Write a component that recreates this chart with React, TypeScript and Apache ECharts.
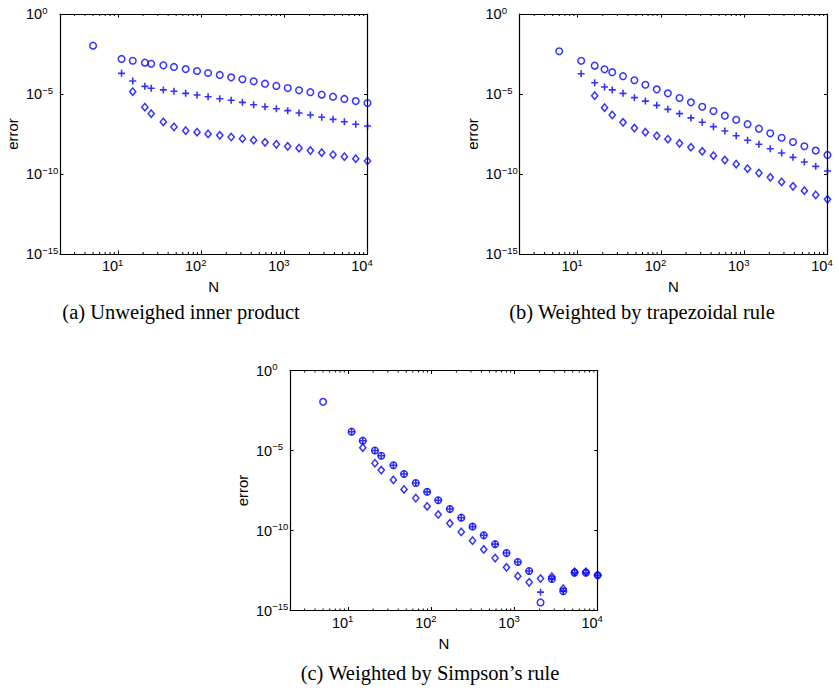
import React, { useEffect, useRef } from 'react';
import * as echarts from 'echarts';

// ---- data ----
const nA = [5, 11, 15, 21, 25, 35, 47, 65, 89, 121, 167, 229, 313, 427, 585, 801, 1097, 1501, 2055, 2813, 3851, 5273, 7219, 10000];
const nB = [6, 11, 16, 21, 26, 35, 48, 65, 89, 121, 167, 229, 313, 427, 585, 801, 1097, 1501, 2055, 2813, 3851, 5273, 7219, 10000];
const nC = [5, 11, 15, 21, 25, 35, 47, 65, 89, 121, 167, 229, 313, 427, 585, 801, 1097, 1501, 2055, 2813, 3851, 5273, 7219, 10000];

// (a) unweighed inner product
const circA = [1.05e-2, 1.55e-3, 1.2e-3, 9.1e-4, 7.8e-4, 6.2e-4, 4.9e-4, 3.6e-4, 2.75e-4, 2.05e-4, 1.55e-4, 1.1e-4, 8.3e-5, 6.2e-5, 4.4e-5, 3.2e-5, 2.35e-5, 1.7e-5, 1.3e-5, 9.1e-6, 6.8e-6, 4.9e-6, 3.6e-6, 2.75e-6];
const crossA = [1.95e-4, 6.5e-5, 3.0e-5, 2.3e-5, 1.8e-5, 1.5e-5, 1.1e-5, 8.7e-6, 6.8e-6, 5.1e-6, 4.1e-6, 3.0e-6, 2.15e-6, 1.6e-6, 1.2e-6, 9.1e-7, 6.5e-7, 4.9e-7, 3.5e-7, 2.6e-7, 1.85e-7, 1.3e-7, 1.0e-7];
const diamA = [1.4e-5, 1.5e-6, 5.9e-7, 1.8e-7, 8.7e-8, 5.1e-8, 4.1e-8, 3.2e-8, 2.6e-8, 2.05e-8, 1.6e-8, 1.3e-8, 9.5e-9, 7.2e-9, 5.4e-9, 4.1e-9, 2.9e-9, 2.15e-9, 1.6e-9, 1.2e-9, 9.1e-10, 6.5e-10];

// (b) weighted by trapezoidal rule
const circB = [4.7e-3, 1.2e-3, 5.9e-4, 3.5e-4, 2.3e-4, 1.3e-4, 7.2e-5, 3.8e-5, 1.95e-5, 1.1e-5, 5.6e-6, 3.0e-6, 1.6e-6, 8.7e-7, 4.4e-7, 2.45e-7, 1.3e-7, 6.8e-8, 3.5e-8, 1.85e-8, 1.0e-8, 5.4e-9, 2.9e-9, 1.55e-9];
const crossB = [1.85e-4, 5.1e-5, 2.75e-5, 1.8e-5, 1.1e-5, 5.9e-6, 3.6e-6, 1.95e-6, 1.1e-6, 5.9e-7, 3.2e-7, 1.7e-7, 9.1e-8, 4.9e-8, 2.45e-8, 1.3e-8, 7.2e-9, 3.8e-9, 2.05e-9, 1.1e-9, 5.6e-10, 3.0e-10, 1.55e-10];
const diamB = [7.8e-6, 1.4e-6, 4.9e-7, 1.7e-7, 7.4e-8, 4.1e-8, 2.45e-8, 1.5e-8, 8.3e-9, 4.7e-9, 2.6e-9, 1.4e-9, 7.4e-10, 4.1e-10, 2.15e-10, 1.15e-10, 6.2e-11, 3.2e-11, 1.7e-11, 9.1e-12, 4.9e-12, 2.6e-12];

// (c) weighted by Simpson's rule
const circC = [1.1e-2, 1.5e-4, 4.1e-5, 1.0e-5, 4.7e-6, 1.2e-6, 3.4e-7, 9.3e-8, 2.6e-8, 7.8e-9, 2.2e-9, 6.3e-10, 1.75e-10, 5.0e-11, 1.4e-11, 3.9e-12, 1.07e-12, 2.95e-13, 3.2e-15, 9.3e-14, 1.6e-14, 2.3e-13, 2.3e-13, 1.6e-13];
const crossC = [1.5e-4, 4.1e-5, 1.0e-5, 4.7e-6, 1.2e-6, 3.4e-7, 9.3e-8, 2.6e-8, 7.8e-9, 2.2e-9, 6.3e-10, 1.75e-10, 5.0e-11, 1.4e-11, 3.9e-12, 1.07e-12, 2.95e-13, 1.4e-14, 9.3e-14, 1.6e-14, 2.3e-13, 2.3e-13, 1.6e-13];
const diamC = [1.5e-5, 1.6e-6, 6.0e-7, 1.45e-7, 3.7e-8, 1.07e-8, 3.2e-9, 1.0e-9, 2.8e-10, 8.1e-11, 2.3e-11, 6.6e-12, 1.9e-12, 5.0e-13, 1.4e-13, 5.8e-14, 1.0e-13, 1.3e-13, 2.3e-14, 2.6e-13, 2.6e-13, 1.6e-13];

const captions = ['(a) Unweighed inner product', '(b) Weighted by trapezoidal rule', '(c) Weighted by Simpson\u2019s rule'];
const xMinorTicks = [3, 4, 5, 6, 7, 8, 9, 20, 30, 40, 50, 60, 70, 80, 90, 200, 300, 400, 500, 600, 700, 800, 900, 2000, 3000, 4000, 5000, 6000, 7000, 8000, 9000];

// ---- layout / style ----
const BLUE = '#0000ff';
const SANS = '"Liberation Sans", Arial, Helvetica, sans-serif';
const SERIF = '"Liberation Serif", "Times New Roman", serif';
const CROSS = 'path://M0,5L10,5M5,0L5,10';

const grids = [
  { left: 60, top: 14, width: 307.5, height: 240 },
  { left: 519.5, top: 14, width: 308, height: 240 },
  { left: 290, top: 370.5, width: 307.7, height: 240 },
];
const captionPos = [
  [181, 312],
  [642, 312],
  [430, 673],
];

function expLabel(v: number): string {
  const e = Math.log10(v);
  const r = Math.round(e);
  if (Math.abs(e - r) > 1e-6) return '';
  const s = r < 0 ? '\u2212' + String(-r) : String(r);
  return '{b|10}{s|' + s + '}';
}

const richX = {
  b: { fontSize: 14.5, fontFamily: SANS, color: '#000' },
  s: { fontSize: 9.5, fontFamily: SANS, color: '#000', padding: [0, 11, 8, 0] },
};
const richY = {
  b: { fontSize: 14.5, fontFamily: SANS, color: '#000' },
  s: { fontSize: 9.5, fontFamily: SANS, color: '#000', padding: [0, 0, 8, 0] },
};

export default function App() {
  const ref = useRef<HTMLDivElement>(null);
  useEffect(() => {
    if (!ref.current) return;
    const chart = echarts.init(ref.current, undefined, { renderer: 'svg' });

    const xAxes: any[] = [];
    const yAxes: any[] = [];
    const series: any[] = [];
    const sets = [
      [nA, circA, crossA, diamA],
      [nB, circB, crossB, diamB],
      [nC, circC, crossC, diamC],
    ] as number[][][];

    grids.forEach((g, i) => {
      const common = {
        gridIndex: i,
        axisLine: { show: true, onZero: false, lineStyle: { color: '#000', width: 1.2 } },
        axisTick: { show: true, inside: true, length: 3.5, lineStyle: { color: '#000', width: 1 } },
        splitLine: { show: false },
      };
      xAxes.push({
        ...common,
        type: 'log', logBase: 10, min: 2, max: 10000, position: 'bottom',
        axisLabel: {
          show: true, formatter: expLabel, rich: richX, margin: 3, align: 'center',
          fontSize: 14.5, fontFamily: SANS, color: '#000',
        },
        name: 'N', nameLocation: 'middle', nameGap: 25,
        nameTextStyle: { fontSize: 15, fontFamily: SANS, color: '#000' },
      });
      xAxes.push({
        ...common,
        type: 'log', logBase: 10, min: 2, max: 10000, position: 'top',
        axisLabel: { show: false },
      });
      yAxes.push({
        ...common,
        type: 'log', logBase: 100000, min: 1e-15, max: 1, position: 'left',
        axisLabel: {
          show: true, formatter: expLabel, rich: richY, margin: 34, align: 'left',
          fontSize: 14.5, fontFamily: SANS, color: '#000',
        },
        name: 'error', nameLocation: 'middle', nameGap: 40, nameRotate: 90,
        nameTextStyle: { fontSize: 15, fontFamily: SANS, color: '#000' },
      });
      yAxes.push({
        ...common,
        type: 'log', logBase: 100000, min: 1e-15, max: 1, position: 'right',
        axisLabel: { show: false },
      });

      const [ns, circ, cross, diam] = sets[i];
      series.push({
        type: 'custom', xAxisIndex: 2 * i, yAxisIndex: 2 * i, silent: true, clip: false,
        data: xMinorTicks.map((v) => [v, 1]),
        renderItem: (params: any, api: any) => {
          const cs = params.coordSys;
          const x = api.coord([api.value(0), 1])[0];
          const yb = cs.y + cs.height;
          const yt = cs.y;
          return {
            type: 'group',
            children: [
              { type: 'line', shape: { x1: x, y1: yb, x2: x, y2: yb - 2 }, style: { stroke: '#000', lineWidth: 1 } },
              { type: 'line', shape: { x1: x, y1: yt, x2: x, y2: yt + 2 }, style: { stroke: '#000', lineWidth: 1 } },
            ],
          };
        },
      });
      series.push({
        type: 'scatter', xAxisIndex: 2 * i, yAxisIndex: 2 * i, clip: false, silent: true,
        data: circ.map((y, k) => [ns[k], y]),
        symbol: 'circle', symbolSize: 6.6,
        itemStyle: { color: 'none', borderColor: BLUE, borderWidth: 1.5 },
      });
      series.push({
        type: 'scatter', xAxisIndex: 2 * i, yAxisIndex: 2 * i, clip: false, silent: true,
        data: cross.map((y, k) => [ns[k + 1], y]),
        symbol: CROSS, symbolSize: 7,
        itemStyle: { color: 'none', borderColor: BLUE, borderWidth: 1.6 },
      });
      series.push({
        type: 'scatter', xAxisIndex: 2 * i, yAxisIndex: 2 * i, clip: false, silent: true,
        data: diam.map((y, k) => [ns[k + 2], y]),
        symbol: 'diamond', symbolSize: [6.2, 7.4],
        itemStyle: { color: 'none', borderColor: BLUE, borderWidth: 1.5 },
      });
    });

    chart.setOption({
      animation: false,
      backgroundColor: '#fff',
      grid: grids.map((g) => ({ ...g, containLabel: false })),
      xAxis: xAxes,
      yAxis: yAxes,
      series,
      graphic: captions.map((t, i) => ({
        type: 'text',
        x: captionPos[i][0],
        y: captionPos[i][1],
        style: {
          text: t,
          fontSize: 20.5,
          fontFamily: SERIF,
          fill: '#000',
          align: 'center',
          verticalAlign: 'middle',
        },
      })),
    });
    return () => chart.dispose();
  }, []);
  return (
    <div
      ref={ref}
      style={{ position: 'absolute', left: 0, top: 0, width: 839, height: 691, background: '#fff' }}
    />
  );
}
